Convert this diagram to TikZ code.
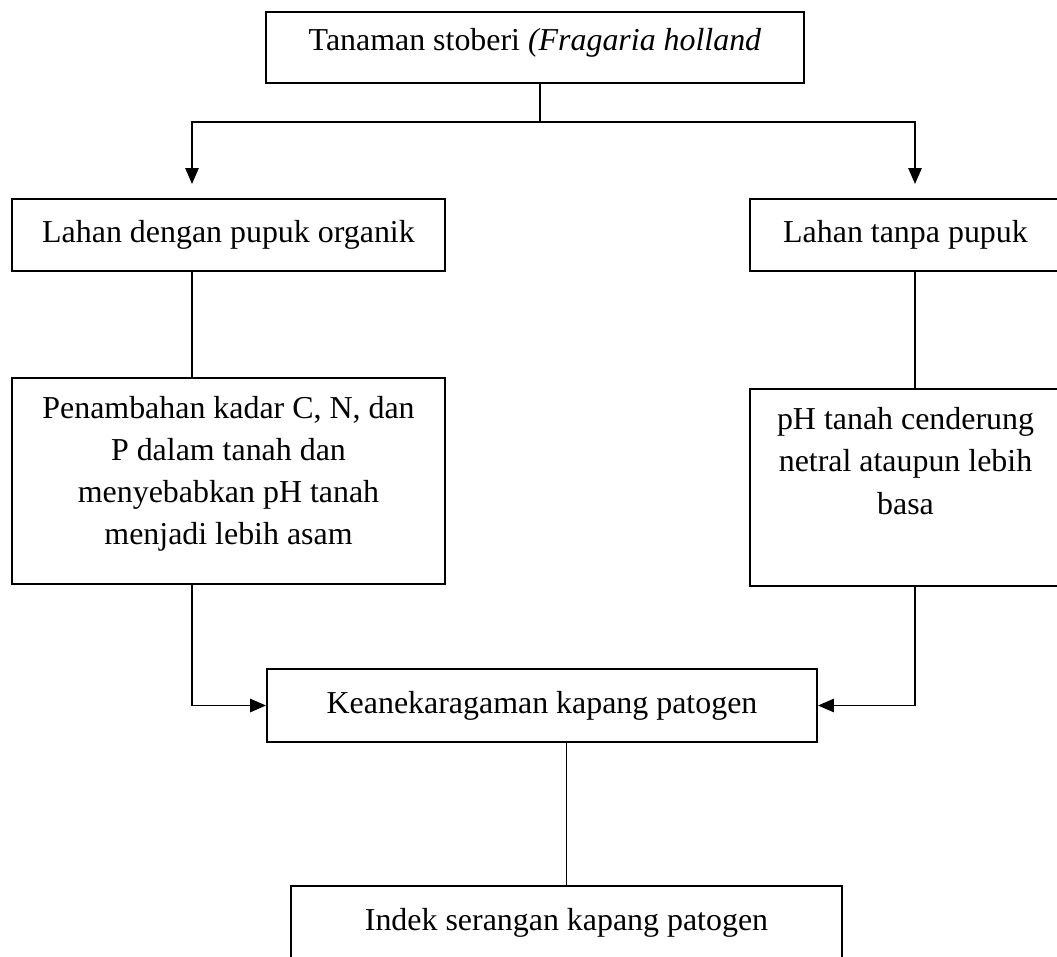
\documentclass[tikz,border=0pt]{standalone}
\usepackage{fontspec}
\setmainfont{Liberation Serif}
\usetikzlibrary{arrows.meta}

\begin{document}
\begin{tikzpicture}[x=0.376pt,y=-0.376pt,line width=0.7pt,
    kotak/.style={draw,inner sep=0pt,align=center,
      font=\fontsize{12}{15.8}\selectfont},
    panah/.style={-{Triangle[length=6pt,width=5pt]}}]
  \useasboundingbox (0,0) rectangle (1057,956);
  \clip (0,0) rectangle (1057,956);
  \draw
    (535,47.5) node[kotak,minimum width=202.3pt,minimum height=26.7pt,
      text height=8.5pt,text depth=6pt] (tanaman)
      {Tanaman stoberi \textit{(Fragaria holland}}
    (228.5,235) node[kotak,minimum width=162.8pt,minimum height=27.1pt] (organik)
      {Lahan dengan pupuk organik}
    (905.5,235) node[kotak,minimum width=116.9pt,minimum height=27.1pt] (tanpa)
      {Lahan tanpa pupuk}
    (228.5,481) node[kotak,minimum width=162.8pt,minimum height=77.5pt,
      text depth=8pt] (kadar)
      {Penambahan kadar C, N, dan\\P dalam tanah dan\\menyebabkan pH tanah\\menjadi lebih asam}
    (905.5,487.5) node[kotak,minimum width=116.9pt,minimum height=74.1pt,
      text depth=20pt] (ph)
      {pH tanah cenderung\\netral ataupun lebih\\basa}
    (542,705.5) node[kotak,minimum width=206.8pt,minimum height=27.4pt] (kapang)
      {Keanekaragaman kapang patogen}
    (566.5,923) node[kotak,minimum width=207.2pt,minimum height=27.8pt] (indek)
      {Indek serangan kapang patogen};
  \coordinate (split) at (540,122);
  \coordinate (inL) at (192,184);
  \coordinate (inR) at (915,184);
  % cabang atas
  \draw (tanaman.south -| split) -- (split);
  \draw[panah] (split) -| (inL);
  \draw[panah] (split) -| (inR);
  % lajur kiri dan kanan
  \draw (organik.south -| inL) -- (kadar.north -| inL);
  \draw (tanpa.south -| inR) -- (ph.north -| inR);
  \draw[panah] (kadar.south -| inL) |- (kapang.west);
  \draw[panah] (ph.south -| inR) |- (kapang.east);
  \draw (kapang.south -| indek.north) -- (indek.north);
\end{tikzpicture}
\end{document}
